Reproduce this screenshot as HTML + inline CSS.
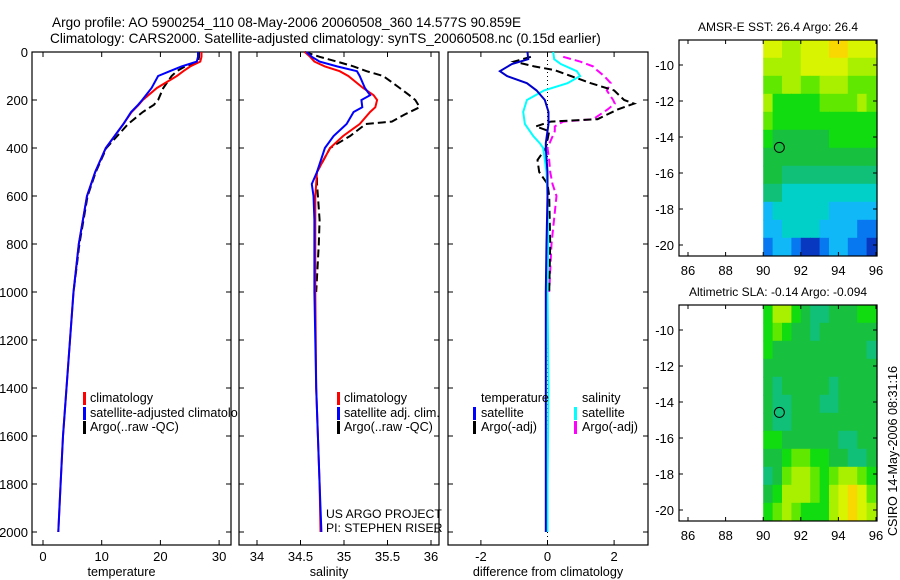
<!DOCTYPE html>
<html><head><meta charset="utf-8"><style>
body{margin:0;background:#fff;}
svg{display:block;font-family:"Liberation Sans",sans-serif;}
</style></head><body>
<svg id="c" width="900" height="580" xmlns="http://www.w3.org/2000/svg">
<defs><clipPath id="clipT"><rect x="32" y="0" width="206" height="580"/></clipPath></defs>
<text x="52" y="27" font-size="13.6">Argo profile: AO 5900254_110 08-May-2006 20060508_360 14.577S 90.859E</text>
<text x="50" y="43" font-size="13.6">Climatology: CARS2000. Satellite-adjusted climatology: synTS_20060508.nc (0.15d earlier)</text>
<g id="g"></g>
</svg>
<script>
// ---- profile data ----
const tDepth=[0,20,40,60,80,100,150,200,220,250,300,400,500,600,700,800,1000,1200,1400,1600,1800,2000];
const tClim=[27.0,27.0,26.8,25.1,23.9,22.8,19.4,17.0,16.3,15.1,13.7,10.7,8.9,7.5,6.8,6.1,5.2,4.6,4.0,3.4,3.0,2.6];
const tSat=[26.4,26.4,26.2,23.6,21.6,19.6,18.5,16.9,16.2,15.0,13.7,10.7,8.9,7.5,6.8,6.1,5.2,4.6,4.0,3.4,3.0,2.6];
const tArgoDepth=[0,20,40,60,80,100,150,200,220,250,300,400,500,600,700,800,900,1000];
const tArgo=[26.6,26.6,26.4,24.2,22.8,21.9,20.5,19.6,18.9,17.0,14.5,10.8,9.0,7.6,6.9,6.2,5.7,5.2];
const sDepth=[0,20,40,60,80,100,150,180,200,230,250,300,350,400,500,550,600,700,800,1000,1400,1600,1800,2000];
const sClim=[34.55,34.61,34.66,34.78,34.95,35.05,35.22,35.34,35.38,35.36,35.30,35.18,34.99,34.84,34.69,34.68,34.67,34.67,34.67,34.67,34.68,34.70,34.72,34.73];
const sSat=[34.57,34.63,34.72,34.92,35.15,35.18,35.24,35.30,35.20,35.21,35.11,35.03,34.88,34.78,34.69,34.63,34.65,34.66,34.66,34.66,34.68,34.70,34.72,34.74];
const sArgoDepth=[0,20,40,60,80,100,150,180,200,230,260,290,300,350,400,500,550,600,700,800,1000];
const sArgo=[34.55,34.72,34.92,35.11,35.26,35.45,35.64,35.75,35.82,35.87,35.70,35.55,35.25,35.07,34.84,34.69,34.69,34.70,34.72,34.71,34.68];
const dDepth=[0,30,50,80,100,130,160,200,250,300,350,380,400,500,600,800,1000,1400,1800,2000];
const dTempSat=[-0.6,-0.58,-1.07,-1.43,-1.22,-0.62,-0.33,-0.08,0.03,0.03,-0.02,-0.05,-0.05,0,0,-0.03,-0.05,-0.05,-0.05,-0.05];
const dSalSat=[0.17,0.2,0.4,0.88,0.98,0.6,-0.1,-0.62,-0.73,-0.68,-0.43,-0.23,-0.13,-0.03,0,0.02,0.0,0.03,0.0,0.0];
const dArgoDepth=[20,40,60,75,100,130,160,200,215,240,280,290,310,330,400,450,500,550,600,800,1000];
const dTempArgo=[-0.5,-1.0,-0.4,0.2,0.7,1.3,2.0,2.3,2.6,2.1,1.5,0.1,-0.35,0.05,-0.05,-0.3,-0.25,0,0.05,0.08,0.05];
const dSalArgo=[0.47,0.98,1.37,1.48,1.7,1.9,1.78,1.97,2.02,1.8,1.37,0.47,0.22,0.22,0,0.05,0.08,0.15,0.27,0.12,0.05];
const depthTicks=[0,200,400,600,800,1000,1200,1400,1600,1800,2000];
const tempTicks=[0,10,20,30];
const salTicks=[34,34.5,35,35.5,36];
const diffTicks=[-2,0,2];
// ---- map data (palette index, rows from north to south, 0.5deg lon cols from 90E) ----
const sstGrid=[
[9,9,8,8,9,9,9,10,10,9,9,9],[8,8,8,8,9,9,9,9,9,8,8,8],[7,7,8,8,7,7,8,8,8,7,7,7],[8,6,6,6,6,6,7,7,7,7,8,7],
[7,6,6,6,6,6,6,6,6,6,6,6],[6,5,5,5,5,5,5,6,6,6,6,6],[5,5,5,5,5,5,5,5,5,5,5,5],[5,5,4,4,4,4,4,4,4,4,4,4],
[4,4,3,3,3,3,3,3,3,3,3,3],[2,3,3,3,3,3,3,2,2,2,2,2],[2,2,3,3,3,3,2,2,2,2,1,1],[1,2,2,1,0,0,1,2,2,1,1,0]];
const slaGrid=[
[6,8,8,6,5,4,4,5,5,5,6,6],[6,7,6,5,5,4,5,5,5,5,5,5],[6,5,5,5,5,5,5,5,5,5,5,4],[5,5,5,5,5,5,5,5,5,5,5,5],
[5,4,5,5,5,5,5,4,5,5,5,5],[5,4,4,5,5,5,4,4,5,5,5,5],[5,4,4,5,5,5,5,5,5,5,5,5],[6,6,5,5,5,5,5,5,4,4,5,5],
[5,5,6,7,7,6,6,5,5,4,4,5],[4,5,7,8,8,7,6,7,8,8,7,6],[5,6,8,8,8,7,6,8,9,10,9,7],[6,7,8,7,6,6,6,8,9,10,9,8]];
const palette=["#0838c0","#0878f0","#10b8f8","#00d0c8","#10c078","#18c040","#10dc10","#60e800","#a8f000","#d8f400","#f8d800"];
const mapLonTicks=[86,88,90,92,94,96];
const mapLatTicks=[-10,-12,-14,-16,-18,-20];
const argoLon=90.859, argoLat=-14.577;

const NS="http://www.w3.org/2000/svg";
const G=document.getElementById('g');
function mk(tag,at,parent){const e=document.createElementNS(NS,tag);for(const k in at)e.setAttribute(k,at[k]);(parent||G).appendChild(e);return e;}
function txt(x,y,s,size,anchor,parent){const e=mk('text',{x:x,y:y,'font-size':size||12,'text-anchor':anchor||'start'},parent);e.textContent=s;return e;}
const Y=d=>52+d*0.24;
const X1=t=>43+t*5.87, X2=s=>257+(s-34)*87, X3=v=>547.5+v*33.3;
const FT=52,FB=545;
const FS=12.6;

function panel(x0,x1,X,ticks,label,name,showY){
  const f=mk('rect',{x:x0,y:FT,width:x1-x0,height:FB-FT,fill:'none',stroke:'#000','stroke-width':1.2});
  
  
  depthTicks.forEach(d=>{const y=Y(d);mk('line',{x1:x0,y1:y,x2:x0+5,y2:y,stroke:'#000'});mk('line',{x1:x1-5,y1:y,x2:x1,y2:y,stroke:'#000'});
    if(showY){const t=txt(28,y+5,String(d),13,'end');}});
  ticks.forEach(v=>{const x=X(v);mk('line',{x1:x,y1:FT,x2:x,y2:FT+5,stroke:'#000'});mk('line',{x1:x,y1:FB-5,x2:x,y2:FB,stroke:'#000'});
    const t=txt(x,561,String(v),13,'middle');});
  const t=txt((x0+x1)/2+ (name==='diff-panel'?0:-10),576,label,FS,'middle');
  
  
}
function line(X,vals,depths,color,dash,name){
  const p=vals.map((v,i)=>X(v).toFixed(1)+','+Y(depths[i]).toFixed(1)).join(' ');
  const e=mk('polyline',{points:p,fill:'none',stroke:color,'stroke-width':2,'stroke-dasharray':dash||'none'});
  
  
}
function legbar(x,y,color){mk('rect',{x:x,y:y-10,width:3,height:13,fill:color});}

// panel 1 temperature
panel(32,231,X1,tempTicks,'temperature','temp-panel',true);
line(X1,tArgo,tArgoDepth,'#000','8,4','temp-argo-line');
line(X1,tClim,tDepth,'#f00',null,'temp-climatology-line');
line(X1,tSat,tDepth,'#00f',null,'temp-satellite-line');
const lg1=mk('g',{'clip-path':'url(#clipT)'});


legbar(83,402,'#f00');legbar(83,417,'#00f');legbar(83,431,'#000');
txt(90,402,'climatology',FS,'start',lg1);txt(90,417,'satellite-adjusted climatology',FS,'start',lg1);txt(90,431,'Argo(..raw -QC)',FS,'start',lg1);

// panel 2 salinity
panel(239,439,X2,salTicks,'salinity','salinity-panel',false);
line(X2,sArgo,sArgoDepth,'#000','8,4','salinity-argo-line');
line(X2,sClim,sDepth,'#f00',null,'salinity-climatology-line');
line(X2,sSat,sDepth,'#00f',null,'salinity-satellite-line');
legbar(337,402,'#f00');legbar(337,417,'#00f');legbar(337,431,'#000');
txt(344,402,'climatology',FS);txt(344,417,'satellite adj. clim.',FS);txt(344,431,'Argo(..raw -QC)',FS);
txt(326,518,'US ARGO PROJECT',12.2);txt(326,532,'PI: STEPHEN RISER',12.2);

// panel 3 differences
panel(448,648,X3,diffTicks,'difference from climatology','diff-panel',false);
mk('line',{x1:X3(0),y1:FT,x2:X3(0),y2:FB,stroke:'#000','stroke-dasharray':'1,3'});
line(X3,dSalArgo,dArgoDepth,'#f0f','8,4','diff-salinity-argo-line');
line(X3,dTempArgo,dArgoDepth,'#000','8,4','diff-temp-argo-line');
line(X3,dSalSat,dDepth,'#0ff',null,'diff-salinity-satellite-line');
line(X3,dTempSat,dDepth,'#00c',null,'diff-temp-satellite-line');
txt(481,402,'temperature',FS);txt(481,417,'satellite',FS);txt(481,431,'Argo(-adj)',FS);
txt(582,402,'salinity',FS);txt(582,417,'satellite',FS);txt(582,431,'Argo(-adj)',FS);
legbar(473,417,'#00f');legbar(473,431,'#000');legbar(574,417,'#0ff');legbar(574,431,'#f0f');

// maps
function map(grid,top,title,name){
  const LX=lon=>688+(lon-86)*18.8, LY=lat=>top+25+(-10-lat)*18;
  const x0=679,x1=877,y0=top,y1=top+216;
  const gg=mk('g',{});
  
  
  grid.forEach((row,j)=>row.forEach((v,i)=>{
    const xa=LX(90+0.5*i), xb=i===row.length-1?x1:LX(90.5+0.5*i);
    const ya=LY(-8.6-j), yb=LY(-9.6-j);
    mk('rect',{x:xa.toFixed(1),y:ya.toFixed(1),width:(xb-xa+0.6).toFixed(1),height:(yb-ya+0.6).toFixed(1),fill:palette[v]},gg);
  }));
  mk('rect',{x:x0,y:y0,width:x1-x0,height:y1-y0,fill:'none',stroke:'#000','stroke-width':1.2},gg);
  mapLonTicks.forEach(l=>{const x=LX(l);mk('line',{x1:x,y1:y0,x2:x,y2:y0+4,stroke:'#000'},gg);mk('line',{x1:x,y1:y1-4,x2:x,y2:y1,stroke:'#000'},gg);txt(x,y1+19,String(l),13,'middle',gg);});
  mapLatTicks.forEach(l=>{const y=LY(l);mk('line',{x1:x0,y1:y,x2:x0+4,y2:y,stroke:'#000'},gg);mk('line',{x1:x1-4,y1:y,x2:x1,y2:y,stroke:'#000'},gg);txt(674,y+5,String(l),13,'end',gg);});
  const c=mk('circle',{cx:LX(argoLon),cy:LY(argoLat),r:5,fill:'none',stroke:'#000','stroke-width':1},gg);
  
  
  const t=txt(778,top-9,title,12,'middle',gg);
  
  
}
map(sstGrid,40,'AMSR-E SST: 26.4 Argo: 26.4','sst-map');
map(slaGrid,305,'Altimetric SLA: -0.14 Argo: -0.094','sla-map');
const st=txt(0,0,'CSIRO 14-May-2006 08:31:16',12.6,'middle');
st.setAttribute('transform','translate(897,451) rotate(-90)');


</script>
</body></html>
